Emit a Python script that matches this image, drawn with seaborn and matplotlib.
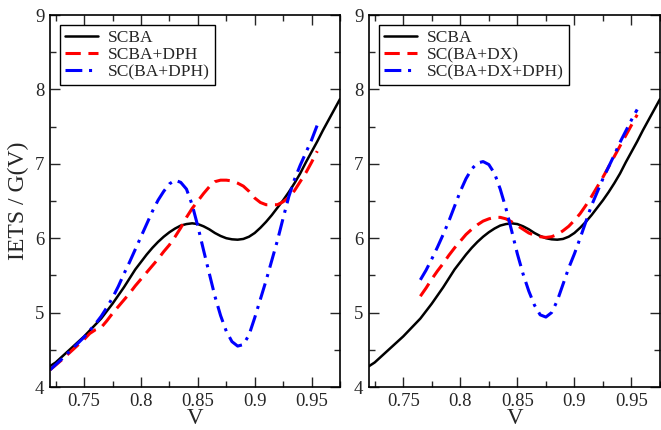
import numpy as np
import pandas as pd
import seaborn as sns
import matplotlib
matplotlib.use("Agg")
import matplotlib.pyplot as plt
from matplotlib.ticker import MultipleLocator

# ---- data ----
scba_v = [0.720, 0.725, 0.730, 0.735, 0.740, 0.745, 0.750, 0.755, 0.760, 0.765,
          0.770, 0.775, 0.780, 0.785, 0.790, 0.795, 0.800, 0.805, 0.810, 0.815,
          0.820, 0.825, 0.830, 0.835, 0.840, 0.845, 0.850, 0.855, 0.860, 0.865,
          0.870, 0.875, 0.880, 0.885, 0.890, 0.895, 0.900, 0.905, 0.910, 0.915,
          0.920, 0.925, 0.930, 0.935, 0.940, 0.945, 0.950, 0.955, 0.960, 0.965,
          0.970, 0.975]
scba_y = [4.28, 4.33, 4.40, 4.47, 4.54, 4.61, 4.68, 4.76, 4.84, 4.92,
          5.02, 5.12, 5.23, 5.34, 5.46, 5.58, 5.68, 5.78, 5.87, 5.95,
          6.02, 6.08, 6.13, 6.17, 6.19, 6.20, 6.19, 6.16, 6.12, 6.07,
          6.03, 6.00, 5.985, 5.98, 5.99, 6.02, 6.07, 6.14, 6.22, 6.31,
          6.41, 6.51, 6.62, 6.74, 6.87, 7.02, 7.16, 7.30, 7.45, 7.59,
          7.73, 7.87]

scbadph_v = [0.720, 0.730, 0.740, 0.750, 0.755, 0.760, 0.765, 0.770, 0.775, 0.780,
             0.785, 0.790, 0.795, 0.800, 0.805, 0.810, 0.815, 0.820, 0.825, 0.830,
             0.835, 0.840, 0.845, 0.850, 0.855, 0.860, 0.865, 0.870, 0.875, 0.880,
             0.885, 0.890, 0.895, 0.900, 0.905, 0.910, 0.915, 0.920, 0.925, 0.930,
             0.935, 0.940, 0.945, 0.950, 0.955]
scbadph_y = [4.23, 4.36, 4.50, 4.64, 4.72, 4.77, 4.80, 4.89, 4.99, 5.08,
             5.17, 5.26, 5.36, 5.45, 5.54, 5.63, 5.72, 5.82, 5.91, 6.02,
             6.14, 6.28, 6.40, 6.50, 6.60, 6.69, 6.76, 6.78, 6.78, 6.77,
             6.74, 6.70, 6.63, 6.54, 6.48, 6.45, 6.45, 6.45, 6.49, 6.55,
             6.64, 6.76, 6.88, 7.02, 7.17]

scbadph2_v = [0.720, 0.730, 0.740, 0.750, 0.760, 0.765, 0.770, 0.775, 0.780, 0.785,
              0.790, 0.795, 0.800, 0.805, 0.810, 0.815, 0.820, 0.825, 0.830, 0.835,
              0.840, 0.845, 0.850, 0.855, 0.860, 0.865, 0.870, 0.875, 0.880, 0.885,
              0.890, 0.895, 0.900, 0.905, 0.910, 0.915, 0.920, 0.925, 0.930, 0.935,
              0.940, 0.945, 0.950, 0.955]
scbadph2_y = [4.23, 4.37, 4.52, 4.67, 4.85, 4.95, 5.07, 5.20, 5.35, 5.52,
              5.68, 5.85, 6.02, 6.19, 6.36, 6.51, 6.63, 6.73, 6.78, 6.75,
              6.66, 6.45, 6.16, 5.84, 5.53, 5.22, 4.96, 4.75, 4.61, 4.55,
              4.57, 4.70, 4.93, 5.18, 5.43, 5.70, 5.97, 6.27, 6.56, 6.79,
              6.98, 7.15, 7.32, 7.52]

scdx_v = [0.765, 0.770, 0.775, 0.780, 0.785, 0.790, 0.795, 0.800, 0.805, 0.810,
          0.815, 0.820, 0.825, 0.830, 0.835, 0.840, 0.845, 0.850, 0.855, 0.860,
          0.865, 0.870, 0.875, 0.880, 0.885, 0.890, 0.895, 0.900, 0.905, 0.910,
          0.915, 0.920, 0.925, 0.930, 0.935, 0.940, 0.945, 0.950, 0.955]
scdx_y = [5.22, 5.33, 5.45, 5.56, 5.66, 5.77, 5.87, 5.96, 6.05, 6.12,
          6.18, 6.23, 6.26, 6.28, 6.28, 6.26, 6.22, 6.17, 6.12, 6.07,
          6.04, 6.02, 6.01, 6.02, 6.05, 6.10, 6.16, 6.24, 6.33, 6.44,
          6.56, 6.69, 6.82, 6.96, 7.10, 7.24, 7.38, 7.52, 7.66]

scdxdph_v = [0.765, 0.770, 0.775, 0.780, 0.785, 0.790, 0.795, 0.800, 0.805, 0.810,
             0.815, 0.820, 0.825, 0.830, 0.835, 0.840, 0.845, 0.850, 0.855, 0.860,
             0.865, 0.870, 0.875, 0.880, 0.885, 0.890, 0.895, 0.900, 0.905, 0.910,
             0.915, 0.920, 0.925, 0.930, 0.935, 0.940, 0.945, 0.950, 0.955]
scdxdph_y = [5.44, 5.57, 5.72, 5.88, 6.05, 6.23, 6.43, 6.63, 6.80, 6.93,
             7.01, 7.03, 6.99, 6.87, 6.66, 6.40, 6.10, 5.79, 5.52, 5.29,
             5.10, 4.97, 4.94, 5.00, 5.16, 5.38, 5.60, 5.79, 6.00, 6.22,
             6.44, 6.62, 6.80, 6.96, 7.12, 7.29, 7.44, 7.59, 7.73]

left_labels = ["SCBA", "SCBA+DPH", "SC(BA+DPH)"]
right_labels = ["SCBA", "SC(BA+DX)", "SC(BA+DX+DPH)"]
x_ticks = [0.75, 0.8, 0.85, 0.9, 0.95]
x_tick_labels = ["0.75", "0.8", "0.85", "0.9", "0.95"]
y_ticks = [4, 5, 6, 7, 8, 9]

# ---- style ----
sns.set_style("ticks")
plt.rcParams["font.family"] = ["Liberation Serif", "DejaVu Serif"]

fig = plt.figure(figsize=(6.61, 4.30), dpi=100)
axL = fig.add_axes([50/661, 43/430, 290/661, 372/430])
axR = fig.add_axes([369/661, 43/430, 291/661, 372/430])

styles = [
    dict(color="black", linestyle="-", linewidth=1.8),
    dict(color="#ff0000", linestyle=(0, (5, 2.5)), linewidth=2.2),
    dict(color="#0000ff", linestyle=(0, (5.5, 2.2, 1.0, 2.2)), linewidth=2.2),
]

def draw(ax, series, labels):
    for (vx, vy), lab, st in zip(series, labels, styles):
        df = pd.DataFrame({"V": vx, "y": vy})
        sns.lineplot(data=df, x="V", y="y", ax=ax, label=lab, sort=False,
                     estimator=None, **st)
    ax.set_xlim(0.72, 0.975)
    ax.set_ylim(4, 9)
    ax.set_xticks(x_ticks)
    ax.set_xticklabels(x_tick_labels)
    ax.set_yticks(y_ticks)
    ax.xaxis.set_minor_locator(MultipleLocator(0.025))
    ax.yaxis.set_minor_locator(MultipleLocator(0.5))
    ax.tick_params(which="both", direction="in", top=True, right=True,
                   labelsize=13.5, width=1.0, pad=4)
    ax.tick_params(which="major", length=7)
    ax.tick_params(which="minor", length=4)
    for s in ax.spines.values():
        s.set_visible(True)
        s.set_linewidth(1.2)
        s.set_color("black")
    ax.set_xlabel("V", fontsize=16.5, labelpad=-1)
    leg = ax.legend(loc="upper left", fontsize=12.5, frameon=True, fancybox=False,
                    edgecolor="black", framealpha=1, borderpad=0.3,
                    labelspacing=0.05, handlelength=1.9, handletextpad=0.6,
                    borderaxespad=0.55)
    leg.get_frame().set_linewidth(1.0)

draw(axL, [(scba_v, scba_y), (scbadph_v, scbadph_y), (scbadph2_v, scbadph2_y)], left_labels)
draw(axR, [(scba_v, scba_y), (scdx_v, scdx_y), (scdxdph_v, scdxdph_y)], right_labels)
axL.set_ylabel("IETS / G(V)", fontsize=17, labelpad=4)
axR.set_ylabel("")

fig.savefig("out.png", dpi=100)
